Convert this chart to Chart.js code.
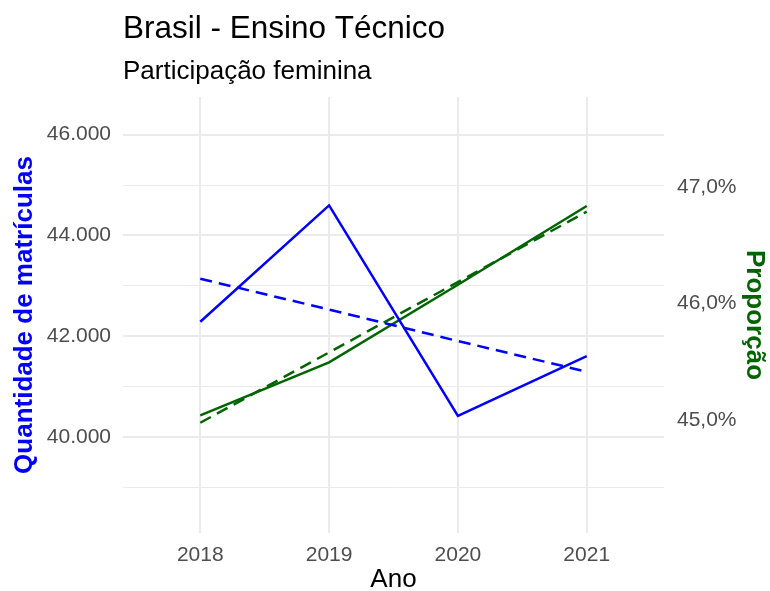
<!DOCTYPE html>
<html>
<head>
<meta charset="utf-8">
<script src="https://cdn.jsdelivr.net/npm/chart.js@4.4.1/dist/chart.umd.min.js"></script>
<style>
  html, body { margin: 0; padding: 0; background: #fff; }
  #wrap { width: 770px; height: 591px; position: relative; }
</style>
</head>
<body>
<div id="wrap"><canvas id="chart"></canvas></div>
<script>
// dados
const years = [2018, 2019, 2020, 2021];
const matriculas = [42288, 44597, 40417, 41607];
const matriculasTrend = [43141, 42530, 41905, 41296];
const proporcao = [45.04, 45.494, 46.16, 46.835];
const proporcaoTrend = [44.977, 45.58, 46.183, 46.786];
const leftTicks = [39000, 40000, 41000, 42000, 43000, 44000, 45000, 46000];
const rightTicks = [45, 46, 47];

const FONT = "'Liberation Sans', Arial, sans-serif";
const BLUE = "#0000FF";
const GREEN = "#006400";

const toPoints = (vals) => years.map((yr, i) => ({ x: yr, y: vals[i] }));

// titulo e subtitulo alinhados com a area do grafico
const titlePlugin = {
  id: "titles",
  afterDraw(chart) {
    const ctx = chart.ctx;
    const left = chart.chartArea.left;
    ctx.save();
    ctx.fillStyle = "#000";
    ctx.textBaseline = "alphabetic";
    ctx.textAlign = "left";
    ctx.font = `31.5px ${FONT}`;
    ctx.fillText("Brasil - Ensino Técnico", left, 38);
    ctx.font = `26px ${FONT}`;
    ctx.fillText("Participação feminina", left, 79);
    ctx.restore();
  },
};

const ctx = document.getElementById("chart").getContext("2d");

const chart = new Chart(ctx, {
  type: "line",
  data: {
    datasets: [
      {
        label: "Matrículas",
        data: toPoints(matriculas),
        borderColor: BLUE,
        borderWidth: 2.5,
        yAxisID: "y",
        pointRadius: 0,
        tension: 0,
      },
      {
        label: "Tendência matrículas",
        data: toPoints(matriculasTrend),
        borderColor: BLUE,
        borderWidth: 2.5,
        borderDash: [12, 7],
        yAxisID: "y",
        pointRadius: 0,
        tension: 0,
      },
      {
        label: "Proporção",
        data: toPoints(proporcao),
        borderColor: GREEN,
        borderWidth: 2.5,
        yAxisID: "y2",
        pointRadius: 0,
        tension: 0,
      },
      {
        label: "Tendência proporção",
        data: toPoints(proporcaoTrend),
        borderColor: GREEN,
        borderWidth: 2.5,
        borderDash: [12, 7],
        yAxisID: "y2",
        pointRadius: 0,
        tension: 0,
      },
    ],
  },
  options: {
    responsive: true,
    maintainAspectRatio: false,
    animation: false,
    layout: { padding: { top: 97, left: 0, right: 0, bottom: 0 } },
    plugins: {
      legend: { display: false },
      tooltip: { enabled: false },
    },
    scales: {
      x: {
        type: "linear",
        min: 2017.4,
        max: 2021.6,
        afterBuildTicks: (scale) => {
          scale.ticks = years.map((v) => ({ value: v }));
        },
        afterFit: (scale) => { scale.height = 58; },
        border: { display: false },
        grid: { color: "#EBEBEB", lineWidth: 2, drawTicks: false },
        ticks: {
          color: "#4D4D4D",
          font: { family: FONT, size: 21 },
          padding: 10,
          callback: (v) => String(v),
        },
        title: {
          display: true,
          text: "Ano",
          color: "#000",
          font: { family: FONT, size: 26, lineHeight: 1 },
          padding: { top: 0, bottom: -2 },
        },
      },
      y: {
        position: "left",
        min: 38095,
        max: 46748,
        afterBuildTicks: (scale) => {
          scale.ticks = leftTicks.map((v) => ({ value: v }));
        },
        afterFit: (scale) => { scale.width = 123; },
        border: { display: false },
        grid: {
          color: "#EBEBEB",
          drawTicks: false,
          lineWidth: (c) => (c.tick && c.tick.value % 2000 === 0 ? 2 : 1),
        },
        ticks: {
          color: "#4D4D4D",
          font: { family: FONT, size: 21 },
          padding: 12,
          callback: (v) => (v % 2000 === 0 ? v.toLocaleString("pt-BR") : ""),
        },
        title: {
          display: true,
          text: "Quantidade de matrículas",
          color: BLUE,
          font: { family: FONT, size: 26, weight: "bold" },
          padding: { top: 9, bottom: 0 },
        },
      },
      y2: {
        position: "right",
        min: 44.032,
        max: 47.769,
        afterBuildTicks: (scale) => {
          scale.ticks = rightTicks.map((v) => ({ value: v }));
        },
        afterFit: (scale) => { scale.width = 106; },
        border: { display: false },
        grid: { display: false, drawTicks: false },
        ticks: {
          color: "#4D4D4D",
          font: { family: FONT, size: 21 },
          padding: 13,
          callback: (v) => v.toFixed(1).replace(".", ",") + "%",
        },
        title: {
          display: true,
          text: "Proporção",
          color: GREEN,
          font: { family: FONT, size: 26, weight: "bold" },
          padding: { top: 0, bottom: 1 },
        },
      },
    },
  },
  plugins: [titlePlugin],
});
</script>
</body>
</html>
